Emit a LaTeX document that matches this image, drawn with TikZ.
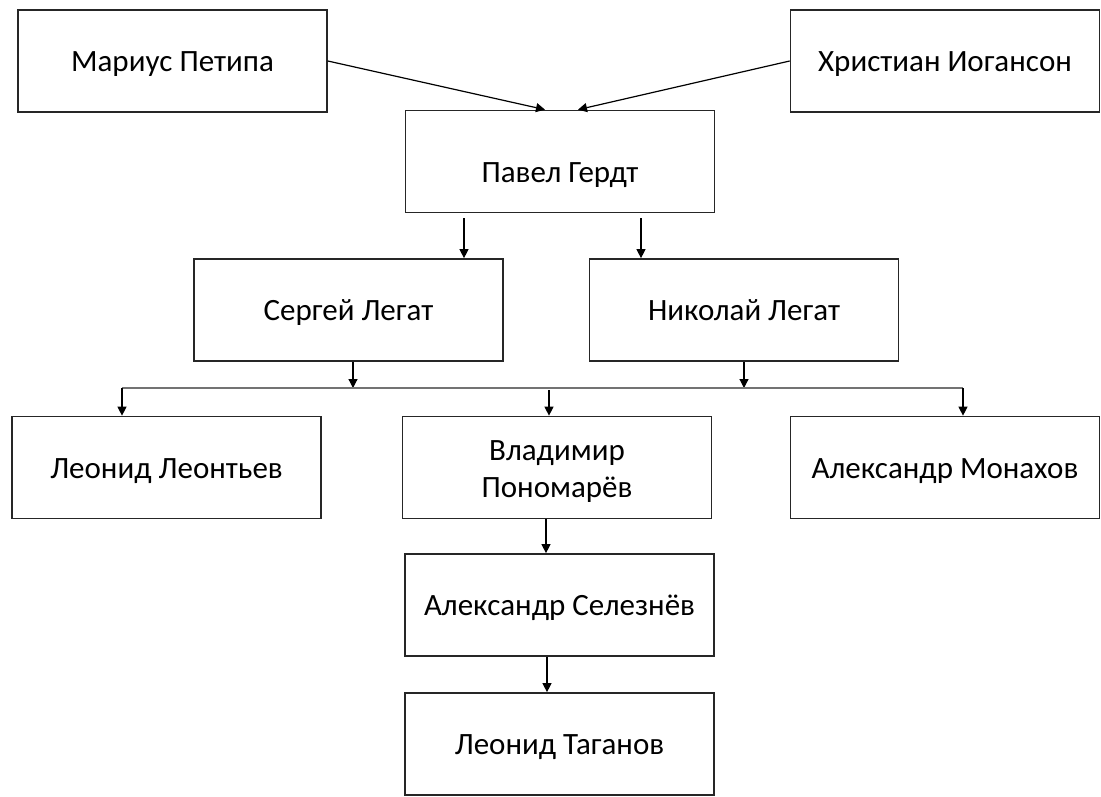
\documentclass[tikz,border=0pt]{standalone}
\usepackage{fontspec}
\setmainfont{Carlito}
\usetikzlibrary{arrows.meta}

\begin{document}
\begin{tikzpicture}[
        x=1pt, y=-1pt,
        person/.style={
            rectangle,
            draw=black!85,
            line width=1.7pt,
            align=center,
            minimum width=309pt,
            minimum height=102pt,
            text height=29pt,
            text depth=8pt,
            font=\fontsize{31}{37}\selectfont,
            inner sep=0pt
        },
        arrow/.style={
            -{Triangle[length=9pt,width=9pt]},
            line width=1.2pt
        },
        bus/.style={
            draw=black!55,
            line width=1.1pt
        }
    ]

        \useasboundingbox (0,0) rectangle (1101,796);

        \node[person] (petipa) at (172.5,61) {Мариус Петипа};
        \node[person] (iogansson) at (945,61) {Христиан Иогансон};
        \node[person, text height=49pt] (pavel) at (560,161.5) {Павел Гердт};
        \node[person] (sergey) at (348.5,310) {Сергей Легат};
        \node[person] (nikolai) at (744,310) {Николай Легат};
        \node[person] (leontyev) at (166.5,467.5) {Леонид Леонтьев};
        \node[person, text height=67pt] (ponomarev) at (557,467.5) {Владимир\\Пономарёв};
        \node[person] (monakhov) at (945,467.5) {Александр Монахов};
        \node[person] (seleznev) at (559.5,605) {Александр Селезнёв};
        \node[person] (taganov) at (559.5,744) {Леонид Таганов};

        \coordinate (busL) at (122,388);
        \coordinate (busR) at (963,388);
        \coordinate (busM) at (549,390);
        \coordinate (joinS) at (353,388);
        \coordinate (joinN) at (744,388);

        \draw[arrow] (petipa.east) -- ([xshift=-15pt]pavel.north);
        \draw[arrow] (iogansson.west) -- ([xshift=18pt]pavel.north);
        \draw[arrow] ([xshift=-96pt,yshift=-5pt]pavel.south) -- ([xshift=115.5pt]sergey.north);
        \draw[arrow] ([xshift=81pt,yshift=-5pt]pavel.south) -- ([xshift=-103pt]nikolai.north);

        \draw[arrow] (sergey.south -| joinS) -- (joinS);
        \draw[arrow] (nikolai.south) -- (joinN);
        \draw[bus] (busL) -- (busR);
        \draw[arrow] (busL) -- (busL |- leontyev.north);
        \draw[arrow] (busM) -- (busM |- ponomarev.north);
        \draw[arrow] (busR) -- (busR |- monakhov.north);

        \draw[arrow] ([xshift=-11pt]ponomarev.south) -- ([xshift=-13.5pt]seleznev.north);
        \draw[arrow] ([xshift=-12.5pt]seleznev.south) -- ([xshift=-12.5pt]taganov.north);

    \end{tikzpicture}
\end{document}
